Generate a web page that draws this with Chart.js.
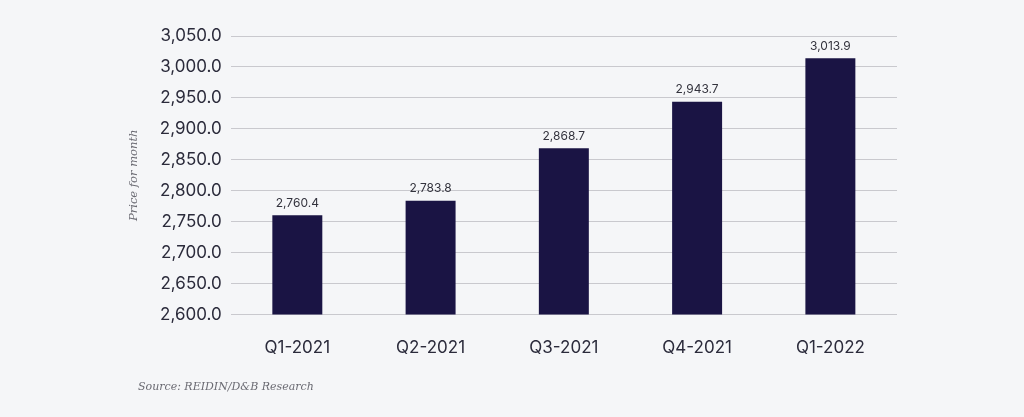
<!DOCTYPE html>
<html><head><meta charset="utf-8">
<script src="https://cdn.jsdelivr.net/npm/chart.js@4/dist/chart.umd.min.js"></script>
<style>
html,body{margin:0;padding:0;background:#f5f6f8;}
#wrap{position:relative;width:1024px;height:417px;}
#src{position:absolute;left:138px;top:380px;font-family:"DejaVu Serif","Liberation Serif",serif;font-style:italic;font-size:11px;color:#6a6a72;}
</style></head>
<body>
<div id="wrap"><canvas id="c"></canvas><div id="src">Source: REIDIN/D&amp;B Research</div></div>
<script>
const categories = ["Q1-2021","Q2-2021","Q3-2021","Q4-2021","Q1-2022"];
const prices = [2760.4, 2783.8, 2868.7, 2943.7, 3013.9];
const yMin = 2600, yMax = 3050, yStep = 50;
const yTitle = "Price for month";

const fmt = v => v.toLocaleString('en-US',{minimumFractionDigits:1,maximumFractionDigits:1});

const labelPlugin = {
  id:'barLabels',
  afterDatasetsDraw(chart){
    const ctx = chart.ctx;
    const meta = chart.getDatasetMeta(0);
    ctx.save();
    ctx.font = '12px Inter, "Noto Sans", sans-serif';
    ctx.fillStyle = '#33333d';
    ctx.textAlign = 'center';
    ctx.textBaseline = 'bottom';
    meta.data.forEach((bar,i)=>{
      ctx.fillText(fmt(chart.data.datasets[0].data[i]), bar.x, bar.y - 6);
    });
    ctx.restore();
  }
};

new Chart(document.getElementById('c'),{
  type:'bar',
  data:{labels:categories,datasets:[{data:prices,backgroundColor:'#1a1444',barPercentage:0.375,categoryPercentage:1}]},
  options:{
    responsive:true,maintainAspectRatio:false,animation:false,
    layout:{padding:{left:123,right:127,top:36,bottom:44}},
    plugins:{legend:{display:false},tooltip:{enabled:false}},
    scales:{
      x:{grid:{display:false},border:{display:false},
         ticks:{color:'#2b2b3b',font:{family:'Inter, "Noto Sans", sans-serif',size:17},padding:15}},
      y:{min:yMin,max:yMax,
         grid:{color:'#c9c9ce',drawTicks:false,lineWidth:1},border:{display:false},
         ticks:{stepSize:yStep,color:'#2b2b3b',padding:9,font:{family:'Inter, "Noto Sans", sans-serif',size:17},callback:v=>fmt(v)},
         title:{display:true,text:yTitle,color:'#6a6a72',padding:{bottom:10},font:{family:'"DejaVu Serif","Liberation Serif",serif',style:'italic',size:11.5}}}
    }
  },
  plugins:[labelPlugin]
});
</script>
</body></html>
